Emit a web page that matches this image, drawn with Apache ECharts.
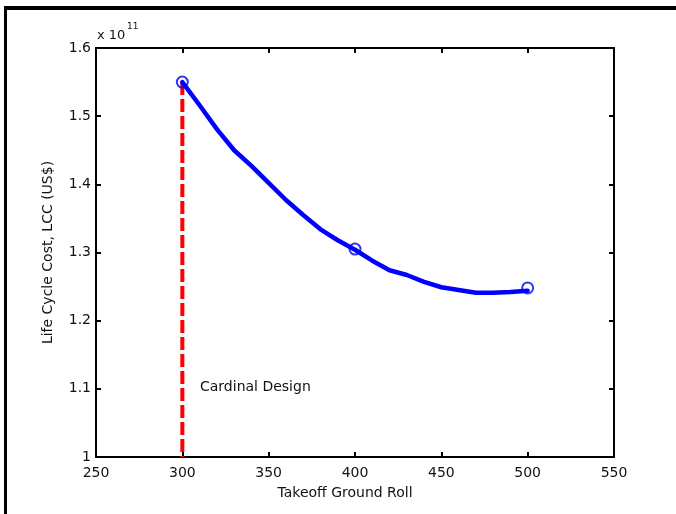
<!DOCTYPE html>
<html>
<head>
<meta charset="utf-8">
<script src="https://cdn.jsdelivr.net/npm/echarts@6/dist/echarts.min.js"></script>
<style>html,body{margin:0;padding:0;background:#fff;}#c{width:676px;height:514px;}</style>
</head>
<body>
<div id="c"></div>
<script>
// Takeoff ground roll (x) and life cycle cost in units of 1e11 US$ (y)
const rollValues = [300, 310, 320, 330, 340, 350, 360, 370, 380, 390, 400, 410, 420, 430, 440, 450, 460, 470, 480, 490, 500];
const lccValues  = [1.550, 1.516, 1.481, 1.450, 1.427, 1.402, 1.377, 1.355, 1.334, 1.318, 1.304, 1.288, 1.274, 1.267, 1.257, 1.249, 1.245, 1.241, 1.241, 1.242, 1.244];
const markerRoll = [300, 400, 500];
const markerLcc  = [1.550, 1.305, 1.248];
const cardinalRoll = 300;
const cardinalLcc = [1.55, 1.0];
const xTicks = [250, 300, 350, 400, 450, 500, 550];
const yTicks = [1.0, 1.1, 1.2, 1.3, 1.4, 1.5, 1.6];

const FONT = 'DejaVu Sans';
const chart = echarts.init(document.getElementById('c'), null, {renderer: 'canvas'});

const axisLine = {show: true, lineStyle: {color: '#000', width: 2}};
const axisTick = {show: true, inside: true, length: 5, lineStyle: {color: '#000', width: 2}};

const option = {
  backgroundColor: '#fff',
  animation: false,
  grid: {left: 96, right: 62, top: 48, bottom: 57, containLabel: false},
  xAxis: [
    {type: 'value', position: 'bottom', min: xTicks[0], max: xTicks[xTicks.length-1], interval: 50,
     axisLine, axisTick, splitLine: {show: false},
     axisLabel: {color: '#111', fontFamily: FONT, fontSize: 14, margin: 9}},
    {type: 'value', position: 'top', min: xTicks[0], max: xTicks[xTicks.length-1], interval: 50,
     axisLine, axisTick, splitLine: {show: false}, axisLabel: {show: false}}
  ],
  yAxis: [
    {type: 'value', position: 'left', min: yTicks[0], max: yTicks[yTicks.length-1], interval: 0.1,
     axisLine, axisTick, splitLine: {show: false},
     axisLabel: {color: '#111', fontFamily: FONT, fontSize: 14, margin: 5,
       formatter: v => (Math.abs(v - 1) < 1e-9 ? '1' : v.toFixed(1))},
     name: 'Life Cycle Cost, LCC (US$)', nameLocation: 'middle', nameGap: 41,
     nameTextStyle: {color: '#111', fontFamily: FONT, fontSize: 14}},
    {type: 'value', position: 'right', min: yTicks[0], max: yTicks[yTicks.length-1], interval: 0.1,
     axisLine, axisTick, splitLine: {show: false}, axisLabel: {show: false}}
  ],
  series: [
    {type: 'line', name: 'cardinal', data: cardinalLcc.map(v => [cardinalRoll, v]),
     symbol: 'none', z: 2,
     lineStyle: {color: '#ff0000', width: 4, type: [13, 4]}},
    {type: 'line', name: 'lcc', data: rollValues.map((x, i) => [x, lccValues[i]]),
     symbol: 'none', z: 3,
     lineStyle: {color: '#0000ff', width: 4.5, join: 'round', cap: 'round'}},
    {type: 'scatter', name: 'markers', data: markerRoll.map((x, i) => [x, markerLcc[i]]),
     symbol: 'circle', symbolSize: 11, z: 4,
     itemStyle: {color: 'rgba(0,0,0,0)', borderColor: '#0000ff', borderWidth: 2}}
  ],
  graphic: [
    {type: 'rect', shape: {x: 4, y: 6, width: 672, height: 4}, style: {fill: '#000'}},
    {type: 'rect', shape: {x: 4, y: 6, width: 3, height: 508}, style: {fill: '#000'}},
    {type: 'text', left: 97, top: 29, style: {text: 'x 10', fontFamily: FONT, fontSize: 13, fill: '#111'}},
    {type: 'text', left: 127, top: 22, style: {text: '11', fontFamily: FONT, fontSize: 9, fill: '#111'}},
    {type: 'text', left: 200, top: 380, style: {text: 'Cardinal Design', fontFamily: FONT, fontSize: 14, fill: '#111'}},
    {type: 'text', x: 345, y: 493, style: {text: 'Takeoff Ground Roll', fontFamily: FONT, fontSize: 14, fill: '#111', align: 'center', verticalAlign: 'middle'}}
  ]
};
chart.setOption(option);
</script>
</body>
</html>
